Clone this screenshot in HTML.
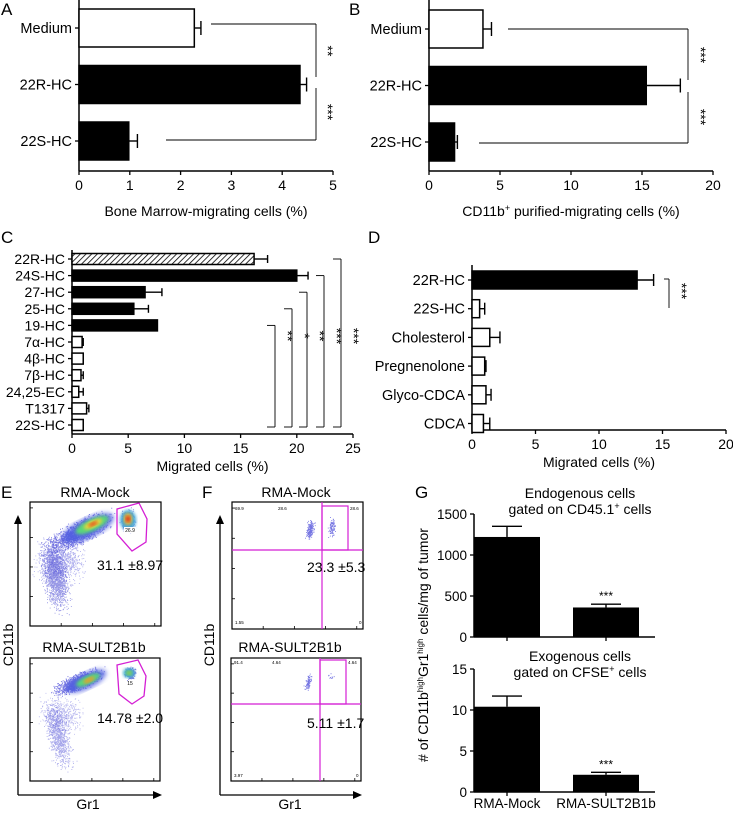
<!DOCTYPE html>
<html><head><meta charset="utf-8"><style>
html,body{margin:0;padding:0;background:#fff;}
svg{display:block;font-family:"Liberation Sans",Arial,sans-serif;}
text{fill:#000;}
</style></head><body>
<svg id="fig" width="733" height="813" viewBox="0 0 733 813" xmlns="http://www.w3.org/2000/svg">
<defs>
<pattern id="hatch" patternUnits="userSpaceOnUse" width="4" height="4" patternTransform="rotate(45)">
<rect width="4" height="4" fill="#fff"/><line x1="0" y1="0" x2="0" y2="4" stroke="#000" stroke-width="1.6"/></pattern>
<filter id="blur2"><feGaussianBlur stdDeviation="2.5"/></filter>
<filter id="blur1"><feGaussianBlur stdDeviation="1.5"/></filter>
</defs>
<g id="root"></g>
</svg>
<script>
// ---------- DATA ----------
var catsA = ["Medium","22R-HC","22S-HC"];
var valsA = [2.27, 4.35, 0.98];
var errsA = [2.4, 4.48, 1.15];
var ticksA = [0,1,2,3,4,5];

var catsB = ["Medium","22R-HC","22S-HC"];
var valsB = [3.8, 15.3, 1.8];
var errsB = [4.4, 17.7, 2.0];
var ticksB = [0,5,10,15,20];

var catsC = ["22R-HC","24S-HC","27-HC","25-HC","19-HC","7\u03b1-HC","4\u03b2-HC","7\u03b2-HC","24,25-EC","T1317","22S-HC"];
var valsC = [16.2, 20.0, 6.5, 5.5, 7.6, 0.9, 1.0, 0.8, 0.6, 1.3, 1.0];
var errsC = [17.4, 21.0, 8.0, 6.8, 7.6, 1.0, 1.0, 1.0, 1.0, 1.5, 1.0];
var ticksC = [0,5,10,15,20,25];

var catsD = ["22R-HC","22S-HC","Cholesterol","Pregnenolone","Glyco-CDCA","CDCA"];
var valsD = [13.0, 0.6, 1.4, 1.0, 1.1, 0.9];
var errsD = [14.3, 1.0, 2.2, 1.1, 1.5, 1.4];
var ticksD = [0,5,10,15,20];

var catsG = ["RMA-Mock","RMA-SULT2B1b"];
var valsGtop = [1220, 360];
var errsGtop = [1350, 400];
var ticksGtop = [0,500,1000,1500];
var valsGbot = [10.4, 2.1];
var errsGbot = [11.7, 2.4];
var ticksGbot = [0,5,10,15];

// ---------- HELPERS ----------
var NS="http://www.w3.org/2000/svg";
var root=document.getElementById('root');
function el(tag,attrs,parent,txt){var e=document.createElementNS(NS,tag);for(var k in attrs)e.setAttribute(k,attrs[k]);if(txt!==undefined)e.textContent=txt;(parent||root).appendChild(e);return e;}
function grp(name,parent){var g=el('g',{},parent);


return g;}
function line(g,x1,y1,x2,y2,w,c){return el('line',{x1:x1,y1:y1,x2:x2,y2:y2,stroke:c||'#000','stroke-width':w||1.3},g);}
function txt(g,x,y,s,size,anchor,extra){var t=el('text',Object.assign({x:x,y:y,'font-size':size,'text-anchor':anchor||'start'},extra||{}),g,s);return t;}

function hbar(name,cfg){
  var g=grp(name);
  var sx=function(v){return cfg.x0+(v-cfg.min)/(cfg.max-cfg.min)*(cfg.x1-cfg.x0);};
  var sy=function(i){return cfg.yFirst+i*cfg.step;};
  line(g,cfg.x0,cfg.axTop,cfg.x0,cfg.base,1.5);
  line(g,cfg.x0,cfg.base,cfg.x1,cfg.base,1.5);
  cfg.ticks.forEach(function(t){
    var tg=grp('x-tick-'+t,g);
    line(tg,sx(t),cfg.base,sx(t),cfg.base+4,1.3);
    txt(tg,sx(t),cfg.base+19,String(t),14,'middle');
  });
  var tt=txt(g,(cfg.x0+cfg.x1)/2,cfg.base+cfg.titleDy,'',14,'middle');
  tt.innerHTML=cfg.title;
  
  
  cfg.cats.forEach(function(c,i){
    var y=sy(i);
    var bg=grp('bar-'+c.toLowerCase().replace(/[^a-z0-9]+/g,'-'),g);
    line(bg,cfg.x0-4,y,cfg.x0,y,1.3);
    txt(bg,cfg.x0-7,y+5,c,cfg.labelSize||14.5,'end');
    var w=sx(cfg.vals[i])-cfg.x0;
    el('rect',{x:cfg.x0,y:y-cfg.bh/2,width:Math.max(w,0),height:cfg.bh,fill:cfg.fills[i],stroke:'#000','stroke-width':1.5},bg);
    var ex=sx(cfg.errs[i]);
    if(cfg.errs[i]>cfg.vals[i]){
      line(bg,sx(cfg.vals[i]),y,ex,y,1.4);
      line(bg,ex,y-cfg.cap,ex,y+cfg.cap,1.4);
    }
  });
  return {g:g,sx:sx,sy:sy};
}
function letter(s,x,y){var t=txt(root,x,y,s,17,'start');

}
function stars(g,x,y,s,size){return txt(g,x,y,s,size||14,'middle',{transform:'rotate(90 '+x+' '+y+')'});}

// ---------- PANEL A ----------
letter('A',1,15);
var A=hbar('panel-a-chart',{x0:79,x1:333,min:0,max:5,axTop:0,base:171,yFirst:28,step:56.5,bh:38,cap:7,cats:catsA,vals:valsA,errs:errsA,ticks:ticksA,fills:['#fff','#000','#000'],title:'Bone Marrow-migrating cells (%)',titleDy:45});
(function(){var g=grp('panel-a-significance',A.g);
line(g,211,24,316,24,0.9);line(g,316,24,316,77,0.9);
line(g,316,88,316,140,0.9);line(g,316,140,166,140,0.9);
stars(g,323,51,'**');stars(g,323,112,'***');})();

// ---------- PANEL B ----------
letter('B',349,15);
var B=hbar('panel-b-chart',{x0:429,x1:713,min:0,max:20,axTop:0,base:171,yFirst:29,step:56.5,bh:38,cap:7,cats:catsB,vals:valsB,errs:errsB,ticks:ticksB,fills:['#fff','#000','#000'],title:'CD11b<tspan font-size="9" dy="-5">+</tspan><tspan dy="5"> purified-migrating cells (%)</tspan>',titleDy:45});
(function(){var g=grp('panel-b-significance',B.g);
line(g,508,29,688,29,0.9);line(g,688,29,688,80,0.9);
line(g,688,92,688,143,0.9);line(g,688,143,479,143,0.9);
stars(g,696,55,'***');stars(g,696,117,'***');})();

// ---------- PANEL C ----------
letter('C',1,243);
var fillsC=catsC.map(function(c,i){return i===0?'url(#hatch)':(i<5?'#000':'#fff');});
var C=hbar('panel-c-chart',{x0:72,x1:353,min:0,max:25,axTop:250,base:434,yFirst:259,step:16.6,bh:11,cap:4,cats:catsC,vals:valsC,errs:errsC,ticks:ticksC,fills:fillsC,title:'Migrated cells (%)',titleDy:37,labelSize:14});
(function(){var g=grp('panel-c-significance',C.g);
var xs=[275,292,307,324,341];var tops=[4,3,2,1,0];var st=['**','*','**','***','***'];
xs.forEach(function(x,k){var top=C.sy(tops[k]);
line(g,x,top,x,427,0.9);line(g,x-8,top,x,top,0.9);line(g,x-8,427,x,427,0.9);
stars(g,x+8,336,st[k]);});})();

// ---------- PANEL D ----------
letter('D',368,243);
var D=hbar('panel-d-chart',{x0:472,x1:726,min:0,max:20,axTop:265,base:430,yFirst:280,step:28.7,bh:18,cap:6,cats:catsD,vals:valsD,errs:errsD,ticks:ticksD,fills:['#000','#fff','#fff','#fff','#fff','#fff'],title:'Migrated cells (%)',titleDy:37});
(function(){var g=grp('panel-d-significance',D.g);
line(g,669,279,669,308,0.9);line(g,664,279,669,279,0.9);stars(g,677,291,'***');})();

// ---------- FLOW PANELS (E, F) ----------
var seed=7;function rnd(){seed=(seed*16807)%2147483647;return seed/2147483647;}
function gauss(){return (rnd()+rnd()+rnd()-1.5)/1.5;}
function dots(g,cx,cy,sx,sy,n,rot,col,op){var c=Math.cos(rot),s=Math.sin(rot);var d='';
for(var i=0;i<n;i++){var a=gauss()*sx,b=gauss()*sy;var x=cx+a*c-b*s,y=cy+a*s+b*c;d+='M'+x.toFixed(1)+' '+y.toFixed(1)+'h0.9v0.9h-0.9z';}
el('path',{d:d,fill:col||'#3b3bd6','fill-opacity':op||0.7},g);}
function blob(g,cx,cy,rx,ry,rot,col,f,op){el('ellipse',{cx:cx,cy:cy,rx:rx,ry:ry,fill:col,'fill-opacity':op||1,filter:'url(#'+f+')',transform:'rotate('+rot+' '+cx+' '+cy+')'},g);}
function ticksBox(g,x0,y0,x1,y1){
  for(var i=0;i<5;i++){var y=y1-(y1-y0)*i/4.2;line(g,x0,y,x0+3,y,0.8);}
  for(var j=0;j<5;j++){var x=x0+(x1-x0)*j/4.2;line(g,x,y1,x,y1-3,0.8);}
}
function flowAxes(g,ax,top,right,yl,xl){
  line(g,ax,795,ax,top+8,1.3);el('path',{d:'M'+(ax-4)+' '+(top+9)+'L'+ax+' '+top+'L'+(ax+4)+' '+(top+9)+'Z',fill:'#000'},g);
  line(g,ax,795,right-8,795,1.3);el('path',{d:'M'+(right-9)+' 791L'+right+' 795L'+(right-9)+' 799Z',fill:'#000'},g);
  txt(g,yl[0],yl[1],'CD11b',14,'middle',{transform:'rotate(-90 '+yl[0]+' '+yl[1]+')'});
  txt(g,xl[0],xl[1],'Gr1',14,'middle');
}
letter('E',1,498);
(function(){
  var g=grp('panel-e-flow');
  flowAxes(g,18,515,162,[13,645],[88,809]);
  var t=grp('e-top-plot',g);
  txt(t,95,497,'RMA-Mock',14,'middle');
  el('rect',{x:30,y:502,width:131,height:124,fill:'#fff',stroke:'#000','stroke-width':1.2},t);
  dots(t,55,575,45,16,1600,1.4,'#4040d0',0.55);
  dots(t,60,560,30,30,900,0,'#4545d8',0.45);
  dots(t,80,532,42,14,1500,-0.45);dots(t,128,520,9,14,400,0);
  blob(t,88,528,28,10,-25,'#4a5be0','blur2',0.8);blob(t,92,525,18,6,-25,'#5ad67a','blur1');blob(t,93,524,10,3.5,-25,'#e8d23a','blur1');blob(t,93,524,5,2,-25,'#e05a20','blur1');
  blob(t,128,520,8,10,0,'#3fa8d8','blur1');blob(t,128,519,4.5,6,0,'#e8b030','blur1');blob(t,128,519,2.5,3,0,'#d83020','blur1');
  el('path',{d:'M117 509L139 503L147 519L146 542L132 551L117 534Z',fill:'none',stroke:'#d41fd4','stroke-width':1.3},t);
  el('rect',{x:124,y:527,width:12,height:6,fill:'#fff'},t);txt(t,130,532,'26.9',5,'middle');
  el('rect',{x:96,y:556,width:64,height:16,fill:'#fff','fill-opacity':0.85},t);
  txt(t,97,570,'31.1 \u00b18.97',14,'start');
  ticksBox(t,30,502,161,626);
  var b=grp('e-bottom-plot',g);
  txt(b,94,652,'RMA-SULT2B1b',14,'middle');
  el('rect',{x:30,y:658,width:130,height:123,fill:'#fff',stroke:'#000','stroke-width':1.2},b);
  dots(b,58,735,42,14,900,1.35,'#5050d8',0.5);dots(b,62,715,28,25,500,0,'#5050d8',0.4);
  dots(b,78,682,32,10,1300,-0.4);dots(b,130,673,7,8,300,0);
  blob(b,86,681,22,8,-25,'#4a5be0','blur2',0.8);blob(b,88,680,13,4.5,-25,'#5ad67a','blur1');blob(b,89,680,6,2.5,-25,'#e0a030','blur1');
  blob(b,129,673,6,5,0,'#40b0c8','blur1');blob(b,129,673,3,2.5,0,'#8bd048','blur1');
  el('path',{d:'M117 665L138 660L146 676L144 696L132 704L119 694Z',fill:'none',stroke:'#d41fd4','stroke-width':1.3},b);
  txt(b,130,685,'15',5,'middle');
  txt(b,97,723,'14.78 \u00b12.0',14,'start');
  ticksBox(b,30,658,160,781);
})();
letter('F',202,498);
(function(){
  var g=grp('panel-f-flow');
  flowAxes(g,220,515,362,[214,645],[290,809]);
  var t=grp('f-top-plot',g);
  txt(t,296,497,'RMA-Mock',14,'middle');
  el('rect',{x:232,y:502,width:131,height:127,fill:'#fff',stroke:'#000','stroke-width':1.2},t);
  dots(t,310,529,5,12,180,0.2);dots(t,332,527,5,12,90,0);
  line(t,232,550,363,550,1.2,'#d41fd4');line(t,322,502,322,629,1.2,'#d41fd4');
  el('rect',{x:322,y:506,width:26,height:44,fill:'none',stroke:'#d41fd4','stroke-width':1.2},t);
  txt(t,235,510,'69.9',4.5);txt(t,278,510,'28.6',4.5);txt(t,350,510,'28.6',4.5);txt(t,235,624,'1.55',4.5);txt(t,359,624,'0',4.5);
  txt(t,307,572,'23.3 \u00b15.3',14,'start');
  ticksBox(t,232,502,363,629);
  var b=grp('f-bottom-plot',g);
  txt(b,290,652,'RMA-SULT2B1b',14,'middle');
  el('rect',{x:231,y:658,width:130,height:123,fill:'#fff',stroke:'#000','stroke-width':1.2},b);
  dots(b,308,682,4,10,80,0.3);dots(b,330,675,6,8,12,0);
  line(b,231,704,361,704,1.2,'#d41fd4');line(b,320,658,320,781,1.2,'#d41fd4');
  el('rect',{x:320,y:660,width:26,height:44,fill:'none',stroke:'#d41fd4','stroke-width':1.2},b);
  txt(b,234,664,'91.4',4.5);txt(b,272,664,'4.64',4.5);txt(b,348,664,'4.64',4.5);txt(b,234,777,'3.97',4.5);txt(b,356,777,'0',4.5);
  txt(b,307,728,'5.11 \u00b11.7',14,'start');
  ticksBox(b,231,658,361,781);
})();

// ---------- PANEL G ----------
letter('G',415,498);
function vbar(name,cfg){
  var g=grp(name);
  var sy=function(v){return cfg.base-(v-0)/(cfg.max)*(cfg.base-cfg.top);};
  line(g,cfg.ax,cfg.top,cfg.ax,cfg.base,1.5);line(g,cfg.ax,cfg.base,655,cfg.base,1.5);
  cfg.ticks.forEach(function(t){var tg=grp('y-tick-'+t,g);line(tg,cfg.ax-4,sy(t),cfg.ax,sy(t),1.3);txt(tg,cfg.ax-7,sy(t)+5,String(t),13.5,'end');});
  var xs=[507,606];
  cfg.vals.forEach(function(v,i){
    var bg=grp('bar-'+cfg.cats[i].toLowerCase(),g);
    el('rect',{x:xs[i]-33,y:sy(v),width:66,height:cfg.base-sy(v),fill:'#000'},bg);
    line(bg,xs[i],sy(v),xs[i],sy(cfg.errs[i]),1.4);line(bg,xs[i]-15,sy(cfg.errs[i]),xs[i]+15,sy(cfg.errs[i]),1.4);
    line(bg,xs[i],cfg.base,xs[i],cfg.base+4,1.3);
  });
  txt(g,606,sy(cfg.errs[1])-4,'***',12,'middle');
  txt(g,580,cfg.t1y,'',14,'middle').innerHTML=cfg.t1;
  txt(g,580,cfg.t1y+16,'',14,'middle').innerHTML=cfg.t2;
  return g;
}
vbar('panel-g-top-chart',{ax:474,top:514,base:637,max:1500,vals:valsGtop,errs:errsGtop,ticks:ticksGtop,cats:catsG,t1:'Endogenous cells',t2:'gated on CD45.1<tspan font-size="9" dy="-5">+</tspan><tspan dy="5"> cells</tspan>',t1y:498});
vbar('panel-g-bottom-chart',{ax:474,top:669,base:792,max:15,vals:valsGbot,errs:errsGbot,ticks:ticksGbot,cats:catsG,t1:'Exogenous cells',t2:'gated on CFSE<tspan font-size="9" dy="-5">+</tspan><tspan dy="5"> cells</tspan>',t1y:661});
(function(){var g=grp('panel-g-labels');
txt(g,507,808,'RMA-Mock',13.5,'middle');txt(g,606,808,'RMA-SULT2B1b',13.5,'middle');
var t=txt(g,428,645,'',14,'middle',{transform:'rotate(-90 428 645)'});
t.innerHTML='# of CD11b<tspan font-size="8" dy="-5">high</tspan><tspan dy="5">Gr1</tspan><tspan font-size="8" dy="-5">high</tspan><tspan dy="5"> cells/mg of tumor</tspan>';

})();
</script>
</body></html>
